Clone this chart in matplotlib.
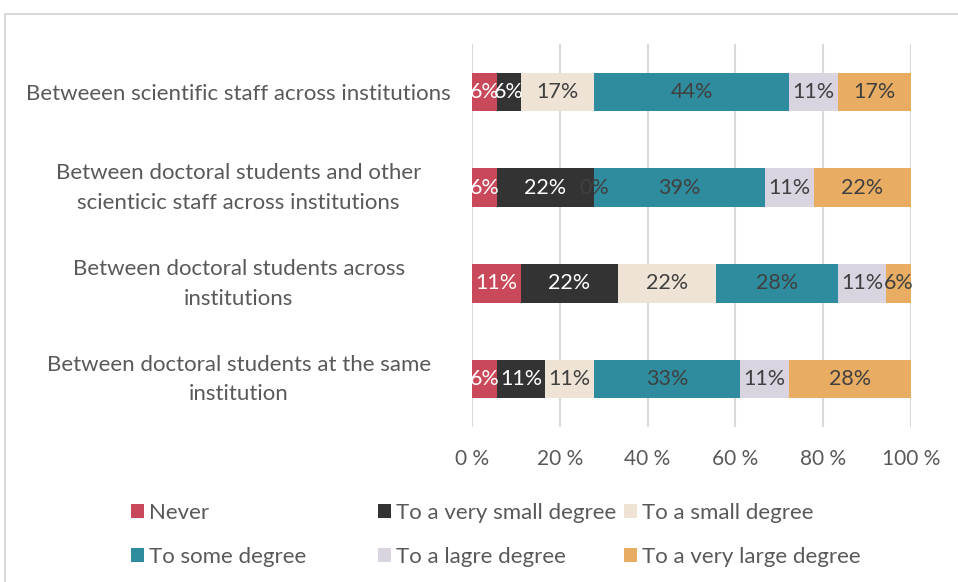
import numpy as np
import matplotlib.pyplot as plt
from matplotlib.patches import Rectangle
from matplotlib.transforms import ScaledTranslation

# categories, bottom to top as drawn in the chart
categories = [
    "Between doctoral students at the same\ninstitution",
    "Between doctoral students across\ninstitutions",
    "Between doctoral students and other\nscienticic staff across institutions",
    "Betweeen scientific staff across institutions",
]
series_names = ["Never", "To a very small degree", "To a small degree",
                "To some degree", "To a lagre degree", "To a very large degree"]

# percentages per series (same order as categories)
never = [5.6, 11.1, 5.6, 5.6]
very_small = [11.1, 22.2, 22.2, 5.6]
small = [11.1, 22.2, 0.0, 16.7]
some = [33.3, 27.8, 38.9, 44.4]
large = [11.1, 11.1, 11.1, 11.1]
very_large = [27.8, 5.6, 22.2, 16.7]

x_ticks = [0, 20, 40, 60, 80, 100]

colors = ["#C9495B", "#333333", "#EEE3D4", "#2E8C9E", "#DAD3E0", "#E8AD62"]
label_colors = ["white", "white", "#404040", "#404040", "#404040", "#404040"]

plt.rcParams['font.family'] = ['Lato', 'DejaVu Sans']

fig = plt.figure(figsize=(9.58, 5.82), dpi=100)
ax = fig.add_axes([472 / 958, 1 - 427 / 582, 439 / 958, 383 / 582])

data = [never, very_small, small, some, large, very_large]
y = np.arange(len(categories))
left = np.zeros(len(categories))
handles = []
for vals, name, c, tc in zip(data, series_names, colors, label_colors):
    vals = np.array(vals)
    bars = ax.barh(y, vals, left=left, height=0.4, color=c, label=name, zorder=3)
    handles.append(bars)
    for yi, l, v in zip(y, left, vals):
        ax.text(l + v / 2, yi, f"{v:.0f}%", ha='center', va='center',
                color=tc, fontsize=15.5, zorder=4)
    left = left + vals

ax.set_xlim(0, 100)
ax.set_ylim(-0.5, len(categories) - 0.5)
ax.set_xticks(x_ticks)
ax.set_xticklabels([f"{t} %" for t in x_ticks], fontsize=15, color='#595959')
ax.set_yticks(y)
ax.set_yticklabels(categories, fontsize=16, color='#595959', ha='center',
                   linespacing=1.6)
ax.tick_params(axis='y', length=0, pad=168)
ax.tick_params(axis='x', length=0, pad=16)
# two-line labels sit a little above the bar centre
for lbl in ax.get_yticklabels():
    if '\n' in lbl.get_text():
        lbl.set_transform(lbl.get_transform() +
                          ScaledTranslation(0, 4.5 / 72, fig.dpi_scale_trans))
ax.grid(axis='x', color='#D9D9D9', lw=1.5, zorder=0)
for s in ax.spines.values():
    s.set_visible(False)

# legend: three columns placed by hand so they are evenly spaced
cols = [[0, 3], [1, 4], [2, 5]]
xs = [131, 378, 624]
for idx, xp in zip(cols, xs):
    leg = fig.legend([handles[i] for i in idx], [series_names[i] for i in idx],
                     loc='upper left', bbox_to_anchor=(xp / 958, 1 - 503 / 582),
                     frameon=False, fontsize=16, handlelength=0.6, handleheight=0.6,
                     handletextpad=0.2, labelspacing=1.08, borderaxespad=0,
                     borderpad=0)
    for t in leg.get_texts():
        t.set_color('#595959')

# outer chart frame
fig.patches.append(Rectangle((5 / 958, -0.1), 1.2, (582 - 14) / 582 + 0.1,
                             transform=fig.transFigure, fill=False,
                             edgecolor='#D9D9D9', lw=1.5))

fig.savefig('out.png', dpi=100)
